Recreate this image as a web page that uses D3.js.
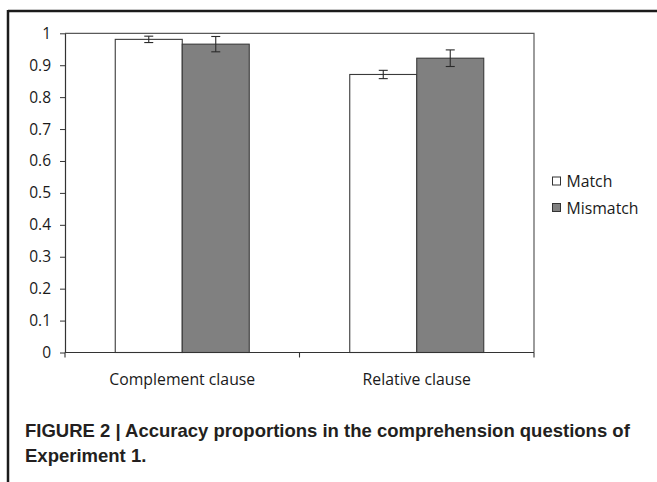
<!DOCTYPE html>
<html><head><meta charset="utf-8">
<script src="https://cdn.jsdelivr.net/npm/d3@7"></script>
<style>
html,body{margin:0;padding:0;background:#fff;}
svg{display:block;}
</style></head>
<body>
<script>
const categories = ["Complement clause", "Relative clause"];
const seriesNames = ["Match", "Mismatch"];
const matchValues = [0.981, 0.871];
const mismatchValues = [0.966, 0.922];
const matchErrors = [0.010, 0.013];
const mismatchErrors = [0.024, 0.026];
const yTickValues = [0, 0.1, 0.2, 0.3, 0.4, 0.5, 0.6, 0.7, 0.8, 0.9, 1];
const seriesFills = ["#ffffff", "#808080"];
const captionLines = ["FIGURE 2 | Accuracy proportions in the comprehension questions of", "Experiment 1."];

(function () {
const W = 657, H = 482;
const svg = d3.select("body").append("svg").attr("width", W).attr("height", H);
const labelFont = "'Open Sans', 'DejaVu Sans', sans-serif";

// outer frame
svg.append("line").attr("x1", 8).attr("x2", W).attr("y1", 11).attr("y2", 11).attr("stroke", "#1b1b1b").attr("stroke-width", 2.5);
svg.append("line").attr("x1", 8).attr("x2", 8).attr("y1", 10).attr("y2", H).attr("stroke", "#1b1b1b").attr("stroke-width", 2.5);

const pLeft = 65, pRight = 534, pTop = 33.3, pBottom = 352.5;
const x = d3.scaleBand().domain(categories).range([pLeft, pRight]).paddingInner(0).paddingOuter(0);
const y = d3.scaleLinear().domain([0, 1]).range([pBottom, pTop]);
const bw = x.bandwidth();
const xs = d3.scaleBand().domain(seriesNames).range([bw / 2 - bw / 3.5, bw / 2 + bw / 3.5]).padding(0);

// plot area border (top & right)
svg.append("path").attr("d", `M${pLeft},${pTop}H${pRight}V${pBottom}`).attr("fill", "none").attr("stroke", "#5a5a5a").attr("stroke-width", 1.2);

const data = categories.map((c, i) => ({
  cat: c,
  vals: [
    {s: seriesNames[0], v: matchValues[i], e: matchErrors[i], f: seriesFills[0]},
    {s: seriesNames[1], v: mismatchValues[i], e: mismatchErrors[i], f: seriesFills[1]}
  ]
}));

const groups = svg.selectAll("g.grp").data(data).join("g").attr("class", "grp")
  .attr("transform", d => `translate(${x(d.cat)},0)`);

groups.selectAll("rect").data(d => d.vals).join("rect")
  .attr("x", d => xs(d.s)).attr("width", xs.bandwidth())
  .attr("y", d => y(d.v)).attr("height", d => y(0) - y(d.v))
  .attr("fill", d => d.f).attr("stroke", "#3a3a3a").attr("stroke-width", 1.1);

// error bars
const eb = groups.selectAll("g.eb").data(d => d.vals).join("g").attr("class", "eb");
eb.append("line")
  .attr("x1", d => xs(d.s) + xs.bandwidth() / 2).attr("x2", d => xs(d.s) + xs.bandwidth() / 2)
  .attr("y1", d => y(d.v + d.e)).attr("y2", d => y(d.v - d.e))
  .attr("stroke", "#2a2a2a").attr("stroke-width", 1.1);
[1, -1].forEach(sign => {
  eb.append("line")
    .attr("x1", d => xs(d.s) + xs.bandwidth() / 2 - 4.5).attr("x2", d => xs(d.s) + xs.bandwidth() / 2 + 4.5)
    .attr("y1", d => y(d.v + sign * d.e)).attr("y2", d => y(d.v + sign * d.e))
    .attr("stroke", "#2a2a2a").attr("stroke-width", 1.1);
});

// y axis
const yAxis = svg.append("g").attr("transform", `translate(${pLeft},0)`)
  .call(d3.axisLeft(y).tickValues(yTickValues).tickFormat(d3.format("~g")).tickSize(5).tickPadding(9).tickSizeOuter(0));
yAxis.select(".domain").attr("stroke", "#333").attr("stroke-width", 1.2);
yAxis.selectAll(".tick line").attr("stroke", "#333");
yAxis.selectAll("text").attr("font-family", labelFont).attr("font-size", 15.5).attr("fill", "#1a1a1a");

// x axis: boundary ticks
const bounds = categories.map(c => x(c)).concat([x(categories[categories.length - 1]) + bw]);
svg.append("line").attr("x1", pLeft).attr("x2", pRight).attr("y1", pBottom).attr("y2", pBottom).attr("stroke", "#333").attr("stroke-width", 1.2);
svg.selectAll("line.xt").data(bounds).join("line").attr("class", "xt")
  .attr("x1", d => d).attr("x2", d => d).attr("y1", pBottom).attr("y2", pBottom + 5)
  .attr("stroke", "#333").attr("stroke-width", 1.1);

const xAxis = svg.append("g").attr("transform", `translate(0,${pBottom})`)
  .call(d3.axisBottom(x).tickSize(0).tickPadding(21.5));
xAxis.select(".domain").remove();
xAxis.selectAll("text").attr("font-family", labelFont).attr("font-size", 15.8).attr("fill", "#1a1a1a");

// legend
const lg = svg.append("g");
seriesNames.forEach((s, i) => {
  const yy = 177 + i * 26.5;
  lg.append("rect").attr("x", 552.5).attr("y", yy).attr("width", 8).attr("height", 8)
    .attr("fill", seriesFills[i]).attr("stroke", "#333").attr("stroke-width", 1);
  lg.append("text").attr("x", 566.5).attr("y", yy + 10.3).text(s)
    .attr("font-family", labelFont).attr("font-size", 15.8).attr("fill", "#1a1a1a");
});

// caption
svg.selectAll("text.cap").data(captionLines).join("text").attr("class", "cap")
  .attr("x", 25).attr("y", (d, i) => 436.5 + i * 25.5).text(d => d)
  .attr("font-family", "'Liberation Sans', Arial, sans-serif").attr("font-weight", "bold")
  .attr("font-size", 18.5).attr("fill", "#231f20");
})();
</script>
</body></html>
